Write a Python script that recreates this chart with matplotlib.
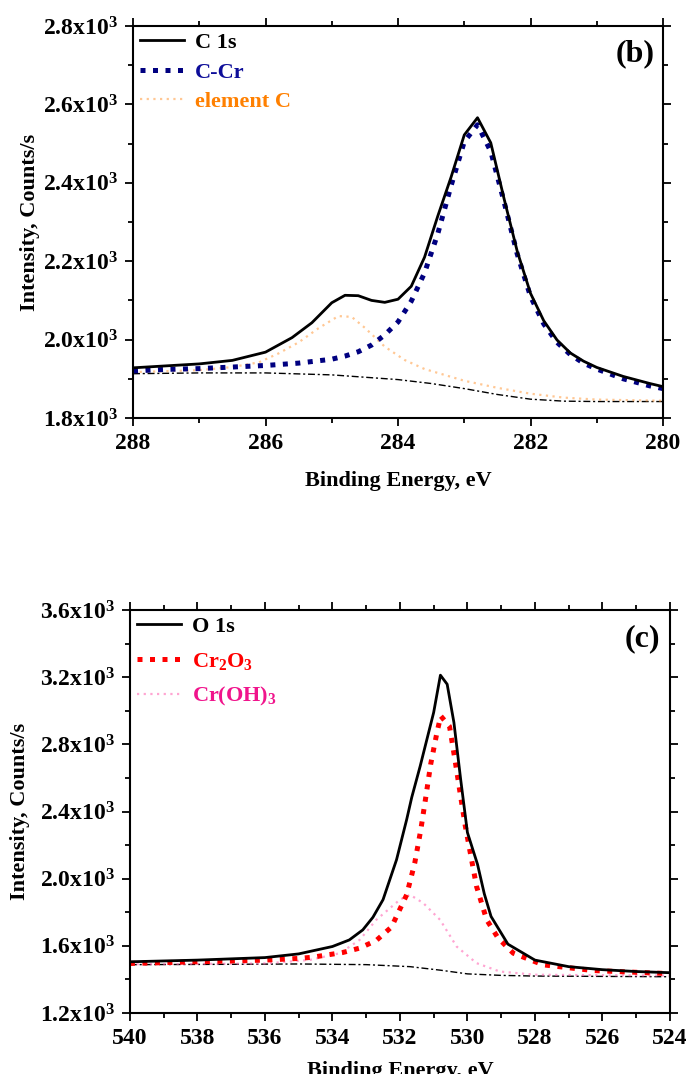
import numpy as np
import matplotlib
matplotlib.use('Agg')
import matplotlib.pyplot as plt
from matplotlib.ticker import MultipleLocator, FuncFormatter

plt.rcParams['font.family'] = ['Liberation Serif', 'DejaVu Serif']
plt.rcParams['font.weight'] = 'bold'
plt.rcParams['mathtext.fontset'] = 'custom'
plt.rcParams['mathtext.rm'] = 'Liberation Serif:bold'
plt.rcParams['mathtext.bf'] = 'Liberation Serif:bold'
plt.rcParams['mathtext.it'] = 'Liberation Serif:bold'

# ---- C 1s panel (b) ----
c_e = [288.0, 287.5, 287.0, 286.5, 286.0, 285.6, 285.3, 285.0, 284.8, 284.6, 284.4,
       284.2, 284.0, 283.8, 283.6, 283.4, 283.2, 283.0, 282.8, 282.6, 282.4, 282.2,
       282.0, 281.8, 281.6, 281.4, 281.2, 281.0, 280.6, 280.2, 280.0]
c1s = [1928, 1933, 1938, 1947, 1968, 2005, 2043, 2094, 2113, 2112, 2100,
       2095, 2103, 2136, 2210, 2315, 2414, 2522, 2566, 2502, 2360, 2225,
       2118, 2048, 1999, 1966, 1945, 1929, 1906, 1888, 1880]

ccr_e = [288.0, 287.5, 287.0, 286.5, 286.0, 285.5, 285.0, 284.8, 284.6, 284.4, 284.2,
         284.0, 283.8, 283.6, 283.4, 283.2, 283.0, 282.8, 282.6, 282.4, 282.2, 282.0,
         281.8, 281.6, 281.4, 281.2, 281.0, 280.6, 280.2, 280.0]
ccr = [1920, 1924, 1926, 1930, 1934, 1940, 1950, 1958, 1969, 1986, 2012,
       2045, 2098, 2170, 2270, 2392, 2505, 2548, 2480, 2352, 2218, 2110,
       2040, 1993, 1962, 1940, 1925, 1900, 1882, 1875]

elc_e = [288.0, 287.0, 286.5, 286.1, 285.8, 285.5, 285.2, 284.9, 284.7, 284.5, 284.2,
         283.9, 283.6, 283.2, 283.0, 282.5, 282.0, 281.5, 281.0, 280.0]
elc = [1917, 1922, 1930, 1942, 1965, 1993, 2029, 2060, 2058, 2030, 1982,
       1948, 1925, 1905, 1895, 1877, 1862, 1852, 1847, 1844]

bgc_e = [288.0, 287.0, 286.0, 285.0, 284.0, 283.5, 283.0, 282.5, 282.0, 281.5, 281.0, 280.0]
bgc = [1913, 1915, 1915, 1910, 1898, 1888, 1875, 1860, 1848, 1843, 1842, 1842]

# ---- O 1s panel (c) ----
o_e = [540.0, 538.0, 536.0, 535.0, 534.0, 533.5, 533.1, 532.8, 532.5, 532.1, 531.8,
       531.65, 531.4, 531.2, 531.0, 530.8, 530.6, 530.4, 530.2, 530.0, 529.7, 529.5,
       529.3, 528.8, 528.0, 527.0, 526.0, 525.0, 524.0]
o1s = [1505, 1515, 1530, 1552, 1596, 1635, 1695, 1770, 1875, 2113, 2352,
       2484, 2670, 2830, 2990, 3212, 3158, 2930, 2591, 2275, 2085, 1910,
       1775, 1610, 1515, 1476, 1458, 1447, 1440]

cr2o3_e = [540.0, 538.0, 536.0, 535.0, 534.6, 533.7, 533.2, 532.7, 532.25, 531.8, 531.56,
           531.38, 531.23, 531.09, 530.9, 530.79, 530.53, 530.37, 530.22, 530.07, 529.73,
           529.43, 529.09, 528.64, 527.76, 526.28, 524.35, 524.0]
cr2o3 = [1495, 1505, 1515, 1525, 1532, 1560, 1586, 1632, 1712, 1904, 2094,
         2293, 2490, 2680, 2873, 2969, 2907, 2710, 2515, 2322, 1954,
         1755, 1646, 1556, 1487, 1453, 1437, 1435]

croh_e = [540.0, 536.0, 534.67, 533.78, 533.19, 532.7, 532.0, 531.7, 531.31, 530.81,
          530.32, 529.73, 529.04, 528.0, 526.0, 524.0]
croh = [1490, 1495, 1516, 1556, 1636, 1755, 1875, 1904, 1855, 1755,
        1596, 1497, 1447, 1428, 1425, 1423]

bgo_e = [540.0, 537.0, 535.0, 533.0, 531.7, 530.8, 530.0, 529.0, 528.0, 524.0]
bgo = [1488, 1490, 1492, 1488, 1476, 1455, 1433, 1424, 1420, 1416]


def fmt(v, pos):
    return '%.1fx10$^{3}$' % (v / 1000.0)


def style(ax, xlim, ylim, ymaj, ymin):
    ax.set_xlim(*xlim)
    ax.set_ylim(*ylim)
    ax.xaxis.set_major_locator(MultipleLocator(2))
    ax.xaxis.set_minor_locator(MultipleLocator(1))
    ax.yaxis.set_major_locator(MultipleLocator(ymaj))
    ax.yaxis.set_minor_locator(MultipleLocator(ymin))
    ax.yaxis.set_major_formatter(FuncFormatter(fmt))
    ax.tick_params(which='both', direction='out', top=True, right=True, width=1.3,
                   labelsize=17, pad=5)
    ax.tick_params(which='major', length=6)
    ax.tick_params(which='minor', length=3.5)
    for s in ax.spines.values():
        s.set_linewidth(1.5)
    ax.set_xlabel('Binding Energy, eV', fontsize=16, fontweight='bold')
    ax.set_ylabel('Intensity, Counts/s', fontsize=16, fontweight='bold')


fig = plt.figure(figsize=(6.91, 10.74), dpi=100)

ax1 = fig.add_axes([0.1925, 0.6108, 0.767, 0.365])
ax1.plot(bgc_e, bgc, color='black', lw=1.0, ls=(0, (5, 2, 1.5, 2)))
ax1.plot(elc_e, elc, color='#FF9A3C', alpha=0.55, lw=1.6, ls=(0, (1, 2)), label='element C')
ax1.plot(ccr_e, ccr, color='#000080', lw=3.6, ls=(0, (1, 1.5)), label='C-Cr')
ax1.plot(c_e, c1s, color='black', lw=2.0, label='C 1s')
style(ax1, (288, 280), (1800, 2800), 200, 100)
h, l = ax1.get_legend_handles_labels()
leg1 = ax1.legend(h[::-1], l[::-1], loc='upper left', frameon=False, fontsize=16,
                  handlelength=2.0, handletextpad=0.5, labelspacing=0.4,
                  borderaxespad=0.1, borderpad=0.2)
for t, c in zip(leg1.get_texts(), ['black', '#0D0D99', '#FF8000']):
    t.set_color(c)
ax1.text(0.985, 0.93, '(b)', transform=ax1.transAxes, ha='right', va='center',
         fontsize=23, fontweight='bold')
ax1.yaxis.set_label_coords(-0.175, 0.5)
ax1.xaxis.set_label_coords(0.5, -0.135)

ax2 = fig.add_axes([0.188, 0.0568, 0.7815, 0.3752])
ax2.plot(bgo_e, bgo, color='black', lw=1.0, ls=(0, (5, 2, 1.5, 2)))
ax2.plot(croh_e, croh, color='#FF69B4', alpha=0.6, lw=1.6, ls=(0, (1, 2)), label='Cr(OH)$_3$')
ax2.plot(cr2o3_e, cr2o3, color='red', lw=3.6, ls=(0, (1, 1.5)), label='Cr$_2$O$_3$')
ax2.plot(o_e, o1s, color='black', lw=2.0, label='O 1s')
style(ax2, (540, 524), (1200, 3600), 400, 200)
h, l = ax2.get_legend_handles_labels()
leg2 = ax2.legend(h[::-1], l[::-1], loc='upper left', frameon=False, fontsize=16,
                  handlelength=2.0, handletextpad=0.5, labelspacing=0.6,
                  borderaxespad=0.1, borderpad=0.2)
for t, c in zip(leg2.get_texts(), ['black', '#FF0000', '#F0148C']):
    t.set_color(c)
ax2.text(0.981, 0.928, '(c)', transform=ax2.transAxes, ha='right', va='center',
         fontsize=23, fontweight='bold')
ax2.yaxis.set_label_coords(-0.185, 0.5)
ax2.xaxis.set_label_coords(0.5, -0.118)

fig.savefig('out.png', dpi=100)
